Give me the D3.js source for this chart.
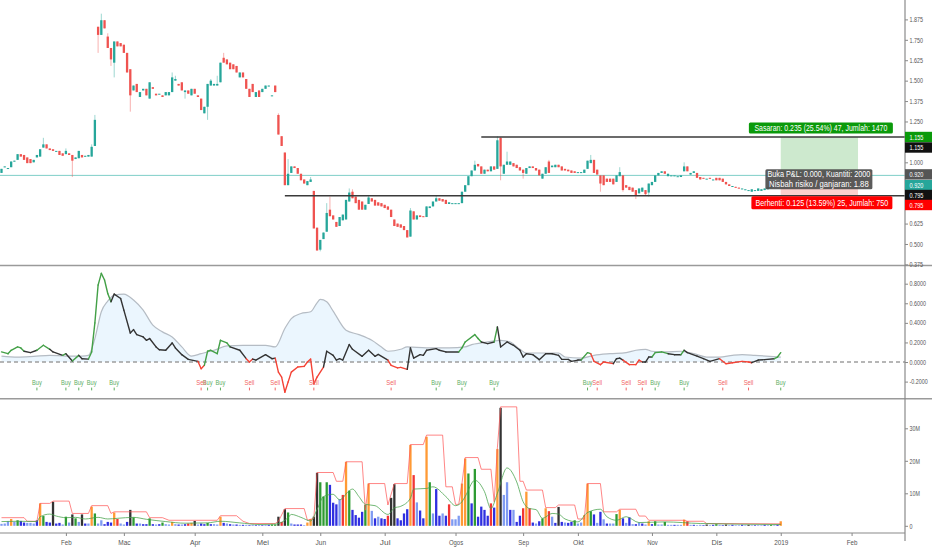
<!DOCTYPE html>
<html>
<head>
  <meta charset="utf-8">
  <title>Carta harian 2018</title>
  <script src="https://cdn.jsdelivr.net/npm/d3@7"></script>
  <style>
    body { margin: 0; background: #fff; }
    svg { display: block; font-family: "Liberation Sans", Arial, sans-serif; }
  </style>
</head>
<body>
<div id="chart"></div>
<script type="text/javascript">
// daily candles, index 0 = first trading day of Jan 2018
var opens = [0.935,0.97,0.96,0.97,1.005,1.015,1.05,1.045,1.03,1.02,
  1.0,1.03,1.035,1.09,1.11,1.085,1.08,1.07,1.07,1.055,
  1.05,1.055,1.045,1.02,1.025,1.045,1.035,1.035,1.035,1.10,
  1.83,1.78,1.87,1.77,1.70,1.61,1.74,1.73,1.72,1.67,
  1.57,1.44,1.48,1.40,1.44,1.45,1.39,1.46,1.42,1.42,
  1.41,1.41,1.41,1.43,1.50,1.48,1.49,1.43,1.44,1.41,
  1.45,1.41,1.39,1.30,1.34,1.47,1.47,1.47,1.49,1.64,
  1.63,1.61,1.60,1.59,1.52,1.55,1.51,1.45,1.48,1.40,
  1.44,1.43,1.45,1.465,1.41,1.47,1.29,1.16,1.06,0.86,
  0.935,0.975,0.965,0.93,0.895,0.86,0.88,0.825,0.60,0.465,
  0.53,0.575,0.71,0.675,0.635,0.61,0.645,0.65,0.76,0.82,
  0.79,0.77,0.76,0.71,0.745,0.78,0.77,0.755,0.75,0.74,
  0.73,0.71,0.65,0.625,0.62,0.61,0.585,0.545,0.70,0.65,
  0.675,0.67,0.665,0.72,0.73,0.76,0.78,0.775,0.77,0.745,
  0.75,0.75,0.75,0.75,0.82,0.86,0.915,0.95,0.99,0.975,
  0.93,0.955,0.945,0.975,0.96,1.15,0.93,0.985,0.985,0.995,
  0.985,0.97,0.955,0.93,0.965,0.975,0.965,0.955,0.90,0.93,
  1.005,0.97,0.97,0.985,0.975,0.96,0.955,0.95,0.945,0.94,
  0.935,0.935,0.96,0.995,1.015,0.955,0.92,0.92,0.90,0.90,
  0.90,0.88,0.915,0.92,0.86,0.85,0.845,0.83,0.81,0.82,
  0.83,0.815,0.86,0.88,0.92,0.935,0.945,0.915,0.92,0.92,
  0.915,0.91,0.945,0.975,0.925,0.935,0.935,0.91,0.905,0.90,
  0.905,0.895,0.905,0.905,0.90,0.88,0.865,0.855,0.85,0.845,
  0.84,0.835,0.83,0.82,0.83,0.825,0.825,0.83,0.835,0.845,
  0.855,0.86,0.87];
var closes = [0.96,0.975,0.965,1.005,1.01,1.05,1.035,1.015,0.995,0.995,
  1.015,1.045,1.08,1.11,1.085,1.075,1.07,1.07,1.045,1.04,
  1.07,1.045,1.01,1.03,1.07,1.03,1.04,1.045,1.095,1.26,
  1.78,1.87,1.82,1.70,1.63,1.74,1.71,1.71,1.67,1.55,
  1.41,1.47,1.43,1.43,1.45,1.41,1.49,1.45,1.41,1.42,
  1.40,1.43,1.43,1.52,1.51,1.47,1.44,1.44,1.42,1.45,
  1.42,1.40,1.32,1.34,1.48,1.50,1.48,1.48,1.61,1.61,
  1.60,1.57,1.57,1.55,1.55,1.52,1.45,1.40,1.43,1.43,
  1.40,1.45,1.47,1.47,1.41,1.43,1.17,1.10,0.86,0.93,
  0.975,0.965,0.93,0.89,0.87,0.885,0.895,0.595,0.46,0.525,
  0.57,0.69,0.67,0.65,0.605,0.665,0.68,0.77,0.815,0.78,
  0.75,0.71,0.71,0.74,0.785,0.76,0.735,0.735,0.73,0.72,
  0.71,0.665,0.61,0.605,0.60,0.585,0.54,0.705,0.65,0.675,
  0.665,0.665,0.73,0.73,0.76,0.78,0.765,0.76,0.745,0.755,
  0.75,0.75,0.75,0.82,0.86,0.915,0.95,0.985,0.975,0.93,
  0.955,0.945,0.975,0.955,1.135,0.975,0.985,1.005,1.005,0.975,
  0.965,0.95,0.935,0.965,0.975,0.965,0.95,0.92,0.93,0.97,
  0.935,0.98,0.985,0.97,0.95,0.95,0.945,0.935,0.935,0.94,
  0.94,0.955,1.01,1.015,0.935,0.925,0.87,0.86,0.88,0.88,
  0.865,0.92,0.94,0.83,0.845,0.83,0.82,0.80,0.84,0.845,
  0.805,0.87,0.88,0.92,0.935,0.945,0.93,0.93,0.92,0.92,
  0.915,0.92,0.975,0.945,0.935,0.945,0.905,0.895,0.90,0.90,
  0.90,0.895,0.89,0.89,0.88,0.865,0.855,0.855,0.845,0.84,
  0.84,0.835,0.83,0.835,0.83,0.84,0.835,0.84,0.85,0.855,
  0.86,0.87,0.92];
// only the wicks that stick out visibly: [bar, price]
var wickHigh = [[13,1.15],[20,1.085],[28,1.11],[29,1.29],[31,1.91],[33,1.79],[53,1.55],[54,1.53],
  [65,1.51],[67,1.53],[69,1.67],[86,1.30],[89,1.02],[96,0.91],[101,0.75],[102,0.79],[108,0.84],
  [109,0.835],[114,0.80],[127,0.72],[135,0.795],[147,1.01],[154,1.16],[155,1.155],[157,1.065],
  [170,1.015],[183,1.045],[192,0.97],[212,1.0],[242,0.925]];
var wickLow = [[22,0.91],[30,1.67],[34,1.59],[35,1.52],[40,1.31],[57,1.39],[64,1.26],[99,0.455],
  [155,0.89],[162,0.90],[186,0.82],[193,0.82],[197,0.775],[200,0.795],[201,0.79]];

// volume in millions, colour class per bar (l light blue, b blue, g green, o orange, r red, k black)
var volumes = [0.6,0.7,1.4,2.1,1.2,1.7,1.5,1.0,0.9,0.9,
  0.7,1.7,6.9,3.0,1.2,1.0,7.4,0.7,0.9,0.4,
  2.8,1.0,3.5,2.3,1.2,3.5,0.7,0.7,5.9,3.8,
  0.7,1.7,0.5,1.2,1.0,4.1,2.1,0.7,0.4,1.2,
  4.9,2.6,0.7,0.7,0.5,0.5,2.3,0.5,0.4,0.5,
  1.0,0.5,0.4,1.2,0.5,0.4,0.4,0.5,0.7,0.9,
  1.5,0.4,0.7,0.5,0.9,0.5,0.5,0.4,2.8,0.9,
  0.7,0.5,0.4,0.4,0.3,0.3,0.3,0.2,0.3,0.2,
  0.3,0.2,0.3,0.3,0.4,0.4,2.8,1.2,5.1,4.1,
  0.7,0.4,0.4,0.4,0.2,1.0,2.1,2.8,16.3,13.4,
  9.0,13.4,12.6,7.1,6.6,8.2,9.5,19.7,10.8,4.9,
  3.3,2.5,4.3,6.4,13.0,4.6,2.3,2.8,2.3,2.1,
  3.1,8.6,12.8,2.3,1.7,3.8,5.1,24.9,15.6,7.2,
  4.7,2.3,27.4,13.4,3.8,11.3,3.1,3.8,3.1,6.6,
  2.0,2.0,3.1,13.0,20.7,16.1,6.9,17.5,2.8,5.9,
  4.9,3.1,6.9,5.6,23.6,36.3,9.5,13.4,4.9,4.9,
  1.2,3.1,5.4,10.5,5.4,1.0,0.7,1.4,2.3,5.4,
  4.5,2.8,0.9,5.8,1.2,1.0,0.9,1.2,1.7,0.7,
  1.0,3.3,13.0,4.5,3.5,0.9,4.3,2.0,0.7,0.7,
  0.7,3.6,4.9,2.3,0.9,2.6,0.5,0.5,1.0,0.7,
  0.4,1.4,0.5,1.4,0.4,0.4,1.2,0.3,0.3,0.3,
  0.3,0.3,1.9,1.4,0.3,0.3,0.2,0.3,0.2,0.4,
  0.2,0.3,0.5,0.3,0.2,0.4,0.2,0.3,0.2,0.2,
  0.3,0.2,0.3,0.2,0.2,0.2,0.2,0.3,0.2,0.3,
  0.2,0.3,1.4];
var volClass = "lllolgbbll" + "lbogbbkbbl" + "glkglkblog" + "llbbborllb" + "kgblbbgblb" +
  "gllolblbro" + "klbbgbllob" + "lblblblblb" + "lblbggkrkg" + "lbbblookkg" +
  "ggbbblrogb" + "bbbgolblbb" + "rkkbbbborl" + "bboglbblbr" + "llloogbgbb" +
  "bbrbokllbl" + "bbrorblbgo" + "rlbkblbbgl" + "loogblblbl" + "lgoblblblb" +
  "lobgllgllb" + "llorlbllbk" + "lbglbklbll" + "blklbllblg" + "lbo";
// volume overlays: highest volume line and average volume line, [bar, M]
var volHigh = [[0,2.5],[7,2.5],[8,1.4],[11,1.4],[12,6.9],[15,6.9],[16,7.6],[21,7.6],[22,3.8],[27,3.8],
  [28,6.2],[33,6.2],[34,3.8],[35,4.3],[45,4.3],[46,2.5],[50,2.5],[52,1.7],[67,1.7],[68,3.1],[73,3.1],
  [75,1.4],[77,0.7],[85,0.7],[86,1.4],[88,5.3],[94,5.3],[95,1.7],[97,2.3],[98,16.4],[103,16.4],
  [104,13.7],[106,13.7],[107,19.7],[112,19.7],[113,4.8],[114,13.0],[119,13.0],[120,6.4],[122,13.0],
  [126,13.0],[127,25.0],[131,25.0],[132,27.9],[137,27.9],[138,12.0],[140,12.0],[141,6.6],[142,6.6],
  [143,13.0],[144,21.0],[148,21.0],[149,17.4],[152,17.4],[153,7.4],[154,24.0],[155,36.6],[160,36.6],
  [161,13.7],[162,13.7],[163,11.0],[168,11.0],[169,5.6],[172,5.6],[173,6.4],[178,6.4],[179,2.1],
  [181,2.1],[182,13.0],[186,13.0],[187,4.3],[191,4.3],[192,5.1],[197,5.1],[198,3.0],[200,3.0],
  [201,1.7],[212,1.7],[213,1.4],[218,1.4],[219,0.7],[242,0.6]];
var volAvg = [[0,1.3],[5,1.4],[11,1.3],[12,2.8],[15,3.6],[17,3.0],[20,2.5],[23,2.6],[26,2.1],[30,2.6],
  [33,2.1],[36,2.3],[41,2.6],[45,2.0],[51,1.3],[57,0.8],[64,0.9],[68,1.4],[74,0.9],[80,0.4],[85,0.5],
  [89,2.5],[90,3.5],[93,2.6],[96,1.5],[98,5.0],[100,9.0],[103,9.7],[105,8.0],[108,10.8],[109,11.3],
  [111,9.0],[113,6.6],[116,6.2],[120,3.5],[122,5.5],[124,6.0],[127,8.5],[128,11.3],[132,11.5],
  [134,12.0],[138,9.0],[141,6.2],[143,7.4],[144,9.0],[147,14.0],[150,10.5],[152,5.3],[154,10.0],
  [157,17.8],[160,13.5],[162,7.4],[164,5.3],[166,5.0],[168,2.3],[171,3.8],[173,3.6],[175,2.1],
  [179,1.2],[182,4.1],[186,5.1],[188,2.8],[191,1.7],[194,2.8],[198,1.0],[206,1.2],[217,0.7],[242,0.4]];

// oscillator pane: main line and its upper band, [bar, value]
var oscLine = [[0,0.103],[2,0.085],[3,0.12],[5,0.154],[6,0.144],[7,0.11],[9,0.096],[11,0.12],[13,0.171],
  [15,0.13],[16,0.103],[19,0.068],[20,0.085],[22,0.01],[24,0.068],[25,0.034],[27,0.03],[28,0.103],
  [29,0.40],[30,0.786],[31,0.906],[32,0.838],[33,0.70],[34,0.615],[35,0.694],[37,0.649],[38,0.53],
  [40,0.297],[41,0.331],[42,0.28],[44,0.256],[45,0.222],[46,0.24],[48,0.154],[49,0.126],[51,0.12],
  [53,0.195],[54,0.144],[56,0.075],[58,0.027],[61,0.007],[62,-0.068],[63,-0.034],[64,0.11],[65,0.12],
  [67,0.085],[68,0.222],[70,0.195],[71,0.154],[74,0.12],[76,0.034],[77,0.0],[78,0.03],[79,0.02],
  [82,0.075],[84,0.034],[85,0.04],[86,-0.103],[87,-0.154],[88,-0.308],[89,-0.205],[90,-0.103],
  [92,-0.051],[94,-0.045],[95,0.0],[96,0.03],[97,-0.222],[98,-0.154],[100,-0.051],[101,0.11],
  [103,0.068],[104,0.02],[105,0.034],[106,0.02],[108,0.178],[109,0.13],[112,0.058],[114,0.12],
  [116,0.058],[117,0.078],[120,0.02],[121,-0.034],[123,-0.06],[124,-0.055],[126,-0.075],[127,0.144],
  [128,0.04],[130,0.075],[131,0.068],[132,0.12],[135,0.137],[136,0.12],[138,0.103],[142,0.103],
  [143,0.144],[144,0.205],[147,0.28],[148,0.24],[149,0.205],[151,0.188],[153,0.205],[154,0.359],
  [155,0.154],[157,0.205],[159,0.171],[161,0.12],[162,0.051],[163,0.085],[165,0.075],[167,0.024],
  [169,0.085],[171,0.085],[173,0.068],[174,0.027],[176,0.027],[177,0.007],[179,0.02],[180,0.02],
  [182,0.096],[183,0.085],[184,0.007],[186,-0.027],[187,0.0],[190,-0.017],[191,0.034],[192,0.04],
  [193,0.02],[195,-0.027],[197,-0.027],[198,0.02],[199,0.0],[200,0.0],[201,0.051],[202,0.051],
  [203,0.096],[205,0.103],[207,0.085],[209,0.075],[211,0.075],[212,0.12],[213,0.096],[216,0.061],
  [218,0.034],[220,0.007],[223,0.034],[225,-0.017],[227,-0.007],[230,0.007],[232,0.0],[233,-0.007],
  [235,0.02],[237,0.024],[240,0.034],[241,0.051],[242,0.096]];
var oscBand = [[0,0.061],[5,0.051],[10,0.058],[15,0.068],[20,0.061],[25,0.061],[27,0.068],[29,0.239],
  [31,0.513],[33,0.622],[35,0.684],[38,0.694],[41,0.633],[44,0.53],[47,0.376],[50,0.308],[53,0.256],
  [56,0.154],[59,0.061],[62,0.085],[66,0.12],[70,0.164],[75,0.171],[82,0.171],[85,0.154],[88,0.342],
  [90,0.444],[93,0.496],[96,0.513],[98,0.605],[99,0.639],[101,0.615],[103,0.52],[107,0.325],
  [111,0.28],[115,0.222],[118,0.154],[120,0.11],[124,0.13],[126,0.154],[132,0.144],[139,0.144],
  [144,0.154],[146,0.178],[149,0.195],[155,0.222],[158,0.205],[161,0.13],[163,0.092],[173,0.092],
  [175,0.051],[180,0.04],[184,0.068],[189,0.085],[194,0.096],[197,0.12],[200,0.13],[202,0.11],
  [206,0.103],[211,0.11],[215,0.085],[219,0.051],[223,0.051],[227,0.068],[230,0.075],[234,0.068],
  [242,0.051]];
// bar ranges where the line is drawn green / red, black elsewhere
var greenRanges = [[0,7],[11,15],[19,20],[23,24],[27,34],[63,71],[142,149],[153,154],[181,183],
  [202,207],[211,212],[240,242]];
var redRanges = [[61,63],[76,78],[85,100],[120,126],[183,190],[194,199],[224,233]];
var buyBars = [11,20,24,28,35,64,68,135,143,153,182,203,212,242];
var sellBars = [62,77,85,97,121,185,194,199,224,232];

// long position drawing
var entryPrice = 0.92, targetPrice = 1.155, stopPrice = 0.795, lastPrice = 0.92;
var posFrom = 242, posTo = 266, targetLineFrom = 149, stopLineFrom = 88;
var targetText = "Sasaran: 0.235 (25.54%) 47, Jumlah: 1470";
var openText = ["Buka P&L: 0.000, Kuantiti: 2000", "Nisbah risiko / ganjaran: 1.88"];
var stopText = "Berhenti: 0.125 (13.59%) 25, Jumlah: 750";

// axes
var dateTicks = [20,38,60,81,99,119,141,162,179,202,222,242,264];
var dateLabels = ["Feb","Mac","Apr","Mei","Jun","Jul","Ogos","Sep","Okt","Nov","Dis","2019","Feb"];
var priceTicks = [0.375,0.5,0.625,1.0,1.25,1.375,1.5,1.625,1.75,1.875];
var oscTicks = [-0.2,0,0.2,0.4,0.6,0.8];
var volTicks = [0,10,20,30];

var W = 932, H = 550, axisX = 905;
var upCol = "#26a69a", downCol = "#ef5350";
var volCol = { l: "#7f9bf2", b: "#2f2fe0", g: "#2e9b33", o: "#ff9a35", r: "#f23535", k: "#333333" };

var svg = d3.select("#chart").append("svg").attr("width", W).attr("height", H);

var x = d3.scaleLinear().domain([0, 100]).range([1.5, 323.5]);
var yPrice = d3.scaleLinear().domain([0.375, 1.875]).range([264.4, 19.4]);
var yOsc = d3.scaleLinear().domain([-0.2, 0.8]).range([381.6, 283.7]);
var yVol = d3.scaleLinear().domain([0, 30]).range([525.8, 428.3]);

// the chart font is narrow, so squeeze small labels to their measured width
function squeeze(sel, perChar) {
  sel.each(function () {
    var t = d3.select(this), s = t.text();
    var w = 0;
    for (var c = 0; c < s.length; c++) {
      var ch = s[c];
      w += (ch === "." ? 0.5 : ch === "-" ? 0.6 : ch === "M" ? 1.45 : 1) * perChar;
    }
    t.attr("textLength", w).attr("lengthAdjust", "spacingAndGlyphs");
  });
}

var defs = svg.append("defs");
[["clipPrice", 0, 265], ["clipOsc", 266, 132], ["clipVol", 399, 134]].forEach(function (c) {
  defs.append("clipPath").attr("id", c[0]).append("rect")
    .attr("x", 0).attr("y", c[1]).attr("width", axisX).attr("height", c[2]);
});

var bars = d3.range(opens.length);
var hiMap = {}, loMap = {};
wickHigh.forEach(function (d) { hiMap[d[0]] = d[1]; });
wickLow.forEach(function (d) { loMap[d[0]] = d[1]; });
function isUp(i) { return closes[i] >= opens[i]; }

/* ---- price pane ---- */
var gP = svg.append("g").attr("clip-path", "url(#clipPrice)");

// last price line
gP.append("line").attr("x1", 0).attr("x2", axisX)
  .attr("y1", yPrice(lastPrice)).attr("y2", yPrice(lastPrice))
  .attr("stroke", "#7fcfc8").attr("stroke-width", 1);

gP.selectAll("line.wick").data(bars).enter().append("line")
  .attr("class", "wick")
  .attr("x1", function (i) { return x(i); })
  .attr("x2", function (i) { return x(i); })
  .attr("y1", function (i) { return yPrice(Math.max(opens[i], closes[i], hiMap[i] || 0)); })
  .attr("y2", function (i) { return yPrice(Math.min(opens[i], closes[i], loMap[i] || 9)); })
  .attr("stroke", function (i) { return isUp(i) ? upCol : downCol; })
  .attr("stroke-opacity", 0.45).attr("stroke-width", 1);

gP.selectAll("rect.body").data(bars).enter().append("rect")
  .attr("class", "body")
  .attr("x", function (i) { return x(i) - 1.15; })
  .attr("width", 2.3)
  .attr("y", function (i) { return yPrice(Math.max(opens[i], closes[i])); })
  .attr("height", function (i) {
    return Math.max(1, yPrice(Math.min(opens[i], closes[i])) - yPrice(Math.max(opens[i], closes[i])));
  })
  .attr("fill", function (i) { return isUp(i) ? upCol : downCol; });

// position zones
gP.append("rect").attr("x", x(posFrom)).attr("width", x(posTo) - x(posFrom))
  .attr("y", yPrice(targetPrice)).attr("height", yPrice(entryPrice) - yPrice(targetPrice))
  .attr("fill", "#4caf50").attr("fill-opacity", 0.28);
gP.append("rect").attr("x", x(posFrom)).attr("width", x(posTo) - x(posFrom))
  .attr("y", yPrice(entryPrice)).attr("height", yPrice(stopPrice) - yPrice(entryPrice))
  .attr("fill", "#f44336").attr("fill-opacity", 0.25);

// horizontal drawings
[[targetPrice, targetLineFrom], [stopPrice, stopLineFrom]].forEach(function (h) {
  gP.append("line").attr("x1", x(h[1])).attr("x2", axisX)
    .attr("y1", yPrice(h[0])).attr("y2", yPrice(h[0]))
    .attr("stroke", "#3a3a3a").attr("stroke-width", 1.4);
});

// position labels
var cx = x((posFrom + posTo) / 2);
function tagBox(cxp, cy, w, h, bg, lines, op) {
  var g = svg.append("g");
  g.append("rect").attr("x", cxp - w / 2).attr("y", cy - h / 2).attr("width", w).attr("height", h)
    .attr("rx", 1.5).attr("fill", bg).attr("fill-opacity", op || 1);
  lines.forEach(function (t, k) {
    g.append("text").attr("x", cxp).attr("y", cy - (lines.length - 1) * 4.7 + k * 9.4 + 3)
      .attr("text-anchor", "middle").attr("fill", "#fff").style("font-size", "8.5px")
      .attr("textLength", t.length * 3.32).attr("lengthAdjust", "spacingAndGlyphs")
      .text(t);
  });
}
tagBox(cx + 1.5, yPrice(targetPrice) - 9, 144, 11, "#0b9a0b", [targetText]);
tagBox(cx - 0.5, yPrice(entryPrice) + 3.8, 107, 20, "#4d4d4d", openText, 0.92);
tagBox(cx + 2.5, yPrice(stopPrice) + 7, 141, 13, "#ff0000", [stopText]);

/* ---- oscillator pane ---- */
var gO = svg.append("g").attr("clip-path", "url(#clipOsc)");
gO.append("path").datum(oscBand)
  .attr("d", d3.area().curve(d3.curveMonotoneX)
    .x(function (d) { return x(d[0]); })
    .y0(yOsc(0))
    .y1(function (d) { return yOsc(d[1]); }))
  .attr("fill", "#2196f3").attr("fill-opacity", 0.09);
gO.append("path").datum(oscBand)
  .attr("d", d3.line().curve(d3.curveMonotoneX)
    .x(function (d) { return x(d[0]); })
    .y(function (d) { return yOsc(d[1]); }))
  .attr("fill", "none").attr("stroke", "#b5bcc4").attr("stroke-width", 1.2);
gO.append("line").attr("x1", 0).attr("x2", axisX)
  .attr("y1", yOsc(0)).attr("y2", yOsc(0))
  .attr("stroke", "#9e9e9e").attr("stroke-width", 1.3).attr("stroke-dasharray", "4,3");

function inRanges(m, list) {
  return list.some(function (r) { return m >= r[0] && m <= r[1]; });
}
var segLine = d3.line().x(function (d) { return x(d[0]); }).y(function (d) { return yOsc(d[1]); });
for (var k = 0; k < oscLine.length - 1; k++) {
  var mid = (oscLine[k][0] + oscLine[k + 1][0]) / 2;
  var col = inRanges(mid, greenRanges) ? "#43a047" : (inRanges(mid, redRanges) ? "#f44336" : "#333");
  gO.append("path").datum([oscLine[k], oscLine[k + 1]])
    .attr("d", segLine).attr("fill", "none").attr("stroke", col)
    .attr("stroke-width", 1.4).attr("stroke-linecap", "round");
}

function signal(list, txt, col) {
  list.forEach(function (i) {
    gO.append("text").attr("x", x(i)).attr("y", 385.3).attr("text-anchor", "middle")
      .attr("fill", col).style("font-size", "7.6px")
      .attr("textLength", 9.8).attr("lengthAdjust", "spacingAndGlyphs").text(txt);
    gO.append("line").attr("x1", x(i)).attr("x2", x(i)).attr("y1", 387.6).attr("y2", 390.4)
      .attr("stroke", col).attr("stroke-width", 1);
  });
}
signal(buyBars, "Buy", "#5cae5f");
signal(sellBars, "Sell", "#f26464");

/* ---- volume pane ---- */
var gV = svg.append("g").attr("clip-path", "url(#clipVol)");
gV.selectAll("rect.vol").data(bars).enter().append("rect")
  .attr("class", "vol")
  .attr("x", function (i) { return x(i) - 1.15; })
  .attr("width", 2.3)
  .attr("y", function (i) { return yVol(volumes[i]); })
  .attr("height", function (i) { return yVol(0) - yVol(volumes[i]); })
  .attr("fill", function (i) { return volCol[volClass[i]]; });
gV.append("path").datum(volHigh)
  .attr("d", d3.line().x(function (d) { return x(d[0]); }).y(function (d) { return yVol(d[1]); }))
  .attr("fill", "none").attr("stroke", "#ff5252").attr("stroke-opacity", 0.7).attr("stroke-width", 1);
gV.append("path").datum(volAvg)
  .attr("d", d3.line().curve(d3.curveMonotoneX)
    .x(function (d) { return x(d[0]); }).y(function (d) { return yVol(d[1]); }))
  .attr("fill", "none").attr("stroke", "#43a047").attr("stroke-opacity", 0.75).attr("stroke-width", 1);

/* ---- frame and axes ---- */
[265.5, 398.8].forEach(function (yy) {
  svg.append("line").attr("x1", 0).attr("x2", W).attr("y1", yy).attr("y2", yy)
    .attr("stroke", "#9a9a9a").attr("stroke-width", 1.5);
});

function rightAxis(scale, ticks, fmt, fontPx) {
  var g = svg.append("g").attr("transform", "translate(" + axisX + ",0)")
    .call(d3.axisRight(scale).tickValues(ticks).tickFormat(fmt).tickSize(3).tickPadding(1.5));
  g.select(".domain").remove();
  g.selectAll(".tick line").attr("stroke", "#888");
  g.selectAll(".tick text").attr("fill", "#555").style("font-size", fontPx + "px")
    .style("font-family", "Liberation Sans, Arial, sans-serif")
    .call(squeeze, 3.0);
}
rightAxis(yPrice, priceTicks, d3.format(".3f"), 7.2);
rightAxis(yOsc, oscTicks, function (d) { return (d < 0 ? "-" : "") + d3.format(".4f")(Math.abs(d)); }, 6.4);
rightAxis(yVol, volTicks, function (d) { return d ? d + "M" : "0"; }, 7.2);

var gx = svg.append("g").attr("transform", "translate(0,533)")
  .call(d3.axisBottom(x).tickValues(dateTicks)
    .tickFormat(function (d, k) { return dateLabels[k]; }).tickSize(3).tickPadding(4));
gx.select(".domain").remove();
gx.selectAll(".tick line").attr("stroke", "#888");
gx.selectAll(".tick text").attr("fill", "#555").style("font-size", "7.4px")
  .style("font-family", "Liberation Sans, Arial, sans-serif")
  .call(squeeze, 3.55);
svg.append("line").attr("x1", 0).attr("x2", axisX).attr("y1", 533).attr("y2", 533)
  .attr("stroke", "#8a8a8a").attr("stroke-width", 1.2);
svg.append("line").attr("x1", axisX).attr("x2", axisX).attr("y1", 0).attr("y2", 541)
  .attr("stroke", "#8a8a8a").attr("stroke-width", 1.2);

// price tags on the right scale
var tags = [
  [targetPrice, 0, "#0b9a0b"], [targetPrice, 10.5, "#111"],
  [entryPrice, -1, "#555"], [lastPrice, 9.8, "#26a69a"],
  [stopPrice, -0.8, "#111"], [stopPrice, 9.2, "#ff0000"]
];
tags.forEach(function (t) {
  var yy = yPrice(t[0]) + t[1];
  svg.append("rect").attr("x", axisX).attr("y", yy - 5.2).attr("width", W - axisX).attr("height", 10.4)
    .attr("fill", t[2]);
  svg.append("text").attr("x", axisX + 4.5).attr("y", yy + 2.6).attr("fill", "#fff")
    .style("font-size", "7.2px").text(d3.format(".3f")(t[0]))
    .call(squeeze, 3.1);
});
</script>
</body>
</html>
